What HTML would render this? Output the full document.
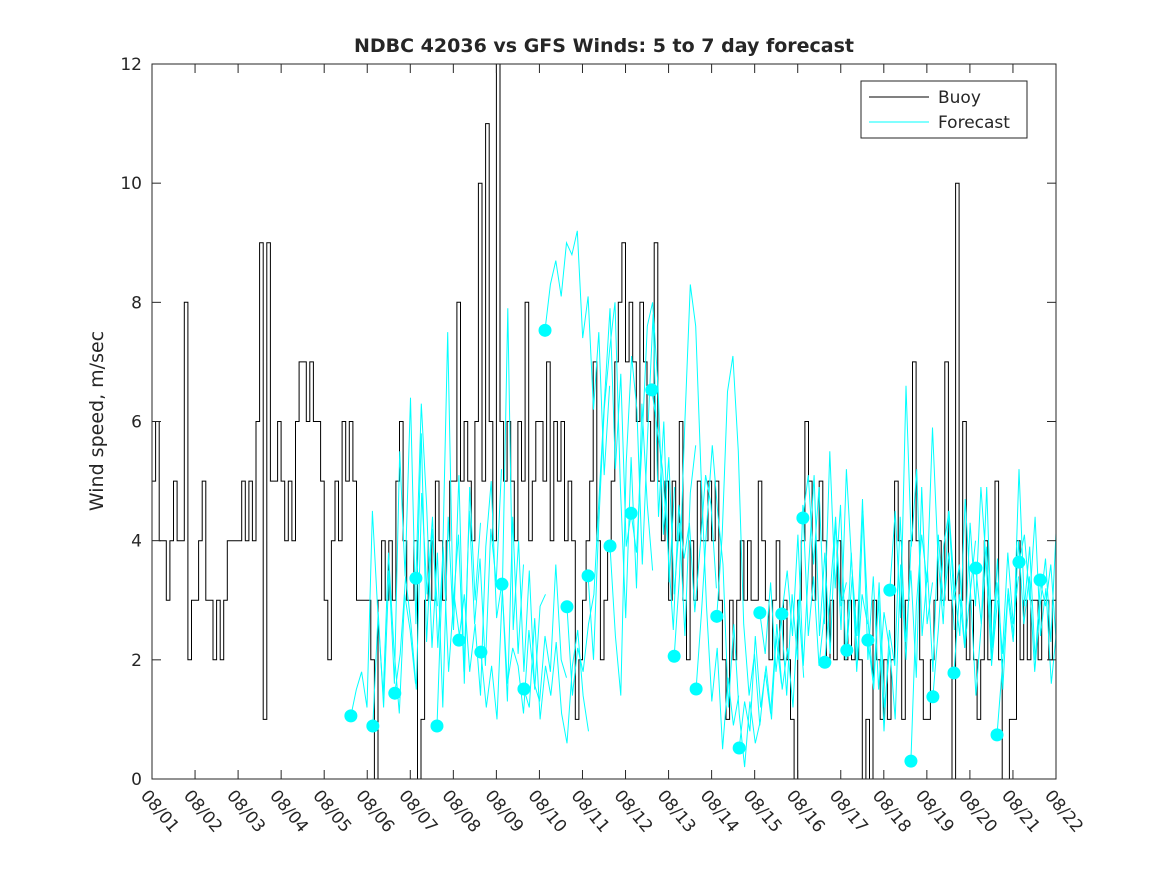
<!DOCTYPE html>
<html><head><meta charset="utf-8"><style>
body{margin:0;background:#fff;font-family:"DejaVu Sans","Liberation Sans",sans-serif}
svg text{font-family:"DejaVu Sans","Liberation Sans",sans-serif;fill:#262626}
</style></head><body>
<svg id="chart" width="1167" height="875" viewBox="0 0 1167 875" xmlns="http://www.w3.org/2000/svg">
<rect width="1167" height="875" fill="#fff"/>
<defs><clipPath id="pc"><rect x="152" y="64" width="904" height="715"/></clipPath></defs>
<g id="plot"></g>
</svg>
<script>
const xTickLabels=["08/01","08/02","08/03","08/04","08/05","08/06","08/07","08/08","08/09","08/10","08/11","08/12","08/13","08/14","08/15","08/16","08/17","08/18","08/19","08/20","08/21","08/22"];
const yTicks=[0,2,4,6,8,10,12];
// buoy: 2-hourly values, 12 per day
const buoy=[
5,6,4,4,3,4,5,4,4,8,2,3,
3,4,5,3,3,2,3,2,3,4,4,4,
4,5,4,5,4,6,9,1,9,5,5,6,
5,4,5,4,6,7,7,6,7,6,6,5,
3,2,4,5,4,6,5,6,5,3,3,3,
3,2,0,3,4,3,4,3,5,6,4,3,
3,4,0,1,3,4,3,5,4,3,4,5,
5,8,5,6,5,4,6,10,5,11,6,4,
12,6,5,6,5,4,6,5,8,4,5,6,
6,5,7,4,6,5,6,4,5,4,1,2,
3,4,5,7,4,2,3,4,5,7,8,9,
7,8,7,6,8,7,6,5,9,5,4,5,
3,5,4,6,3,2,4,3,5,4,4,5,
4,5,3,2,1,3,2,3,4,3,4,3,
3,5,4,3,2,3,4,2,3,2,1,0,
3,4,6,5,3,4,5,4,2,3,2,4,
3,2,3,2,3,2,0,1,0,3,2,1,
2,1,2,5,4,1,3,4,7,4,2,1,
1,2,3,4,3,7,3,0,10,3,6,2,
3,2,1,2,4,2,3,5,2,0,0,1,
1,4,2,3,2,3,3,2,3,3,2,3];
const runStart=[4.62,5.13,5.64,6.13,6.62,7.13,7.64,8.13,8.64,9.13,9.64,10.13,10.64,11.13,11.61,12.13,12.64,13.12,13.64,14.12,14.63,15.12,15.63,16.14,16.63,17.14,17.63,18.14,18.63,19.14,19.63,20.14,20.63];
const runs=[
[1.06,1.5,1.8,1.2,4.5,2.8,1.4,3.8,2.2,1.1,3.1,2.5,1.6],
[0.89,2.8,1.2,3.5,1.6,5.5,3.4,6.4,2.6,5.8,2.3,4.2,2.9],
[1.44,2.1,3.4,2.6,1.5,4.8,3.1,4.4,2.2,3.9,1.8,3.1,2.4],
[3.37,6.3,4.6,2.2,3.8,1.2,4.4,2.5,5.1,1.6,4.9,3.0,4.3],
[0.89,3.5,7.5,2.9,4.1,1.8,4.5,2.6,3.7,1.9,4.2,3.3,5.2],
[2.33,3.1,1.8,2.6,1.4,3.9,5.0,2.7,3.3,1.3,4.4,2.1,3.6],
[2.13,1.2,1.9,1.0,3.2,7.9,2.5,4.0,1.8,3.5,1.5,2.9,3.1],
[3.27,1.6,2.2,1.9,1.1,2.5,1.6,1.3,2.4,1.8,3.6,2.0,1.7],
[1.51,1.2,2.7,1.0,1.9,1.4,2.3,1.1,0.6,1.9,2.5,1.4,0.8],
[7.53,8.3,8.7,8.1,9.0,8.8,9.2,7.4,8.1,6.2,7.5,5.1,6.6],
[2.89,1.4,2.2,1.8,2.6,3.1,4.8,6.4,7.9,5.2,6.8,3.9,4.5],
[3.41,2.0,4.3,6.2,7.2,8.0,4.9,2.7,5.4,3.2,6.3,4.6,3.5],
[3.91,2.4,1.4,5.3,7.1,6.2,3.6,5.8,7.8,4.4,6.0,3.3,4.9],
[4.46,3.8,5.6,7.6,8.0,6.6,4.1,5.4,3.1,4.3,2.4,4.8,5.6],
[6.53,5.9,5.2,3.9,2.5,4.6,3.7,4.3,2.8,3.9,5.1,4.6,3.2],
[2.06,3.4,6.0,8.3,7.6,5.1,2.9,1.3,2.2,0.5,1.7,0.9,1.4],
[1.51,2.8,4.3,5.6,4.5,3.6,1.2,2.6,1.1,0.2,1.3,0.6,1.0],
[2.73,4.1,6.5,7.1,5.5,2.6,1.4,2.1,0.9,1.8,1.1,2.4,1.6],
[0.52,1.3,0.8,2.4,1.2,1.9,1.0,2.6,1.5,2.2,1.2,3.0,1.7],
[2.79,2.1,3.3,1.8,2.7,1.4,3.1,2.0,4.6,2.4,3.4,1.9,2.8],
[2.77,3.5,2.4,4.1,1.9,3.6,5.1,2.4,3.8,2.1,4.3,2.9,3.3],
[4.38,5.1,3.6,4.9,2.6,5.5,3.2,4.6,2.0,3.8,1.8,3.1,2.6],
[1.96,3.1,4.4,2.5,5.2,3.6,2.4,4.7,2.0,3.4,1.5,2.8,2.2],
[2.16,3.4,2.0,4.5,2.6,1.5,3.3,1.2,2.2,1.0,3.6,2.0,4.1],
[2.33,1.6,3.0,0.8,2.5,1.9,4.4,2.3,3.5,1.7,4.9,2.6,3.3],
[3.17,4.5,2.7,6.6,3.9,5.2,2.4,3.5,1.8,4.1,2.9,3.8,2.5],
[0.30,2.9,4.1,3.3,5.9,3.8,2.6,4.5,3.0,3.6,2.2,3.1,4.0],
[1.38,2.5,3.9,4.5,3.2,2.4,4.7,3.1,1.4,2.6,3.9,2.0,3.0],
[1.78,3.1,2.2,4.3,2.9,4.9,3.6,1.9,3.3,2.1,3.8,2.6,3.4],
[3.54,2.6,4.9,2.2,3.7,1.5,3.2,2.4,5.2,2.9,3.9,2.0,3.3],
[0.74,1.9,3.1,2.3,4.0,2.6,3.4,1.8,2.9,3.7,2.3,4.2,3.0],
[3.64,4.1,3.0,4.4,2.4,3.2,1.6,2.5,1.5,3.3,2.6,4.5,3.8],
[3.34,2.9,3.6,2.3,3.1,2.0,2.8,3.5,2.6,4.1,3.0,4.9,4.2]
];
const X0=152,X1=1056,Y0=779,Y1=64,DAYS=21,YMAX=12,PER_DAY=12;
const xs=d=>X0+(X1-X0)*d/DAYS;
const ys=v=>Y0-(Y0-Y1)*v/YMAX;
const NS="http://www.w3.org/2000/svg";
const g=document.getElementById('plot');
function mk(t,a,parent){const e=document.createElementNS(NS,t);for(const k in a)e.setAttribute(k,a[k]);(parent||g).appendChild(e);return e;}
let e=mk('rect',{x:X0,y:Y1,width:X1-X0,height:Y0-Y1,fill:'#fff',stroke:'none'});


const clipG=mk('g',{'clip-path':'url(#pc)'});


// buoy step line
let p='';
buoy.forEach((v,i)=>{const x=xs(i/PER_DAY),x2=xs((i+1)/PER_DAY);p+=(i?'L':'M')+x.toFixed(1)+','+ys(v).toFixed(1)+'L'+x2.toFixed(1)+','+ys(v).toFixed(1);});
e=mk('path',{d:p,fill:'none',stroke:'#000','stroke-width':1},clipG);


runs.forEach((r,k)=>{let d='';r.forEach((v,i)=>{d+=(i?'L':'M')+xs(runStart[k]+i/8).toFixed(1)+','+ys(v).toFixed(1);});
 const l=mk('path',{d:d,fill:'none',stroke:'#00ffff','stroke-width':1},clipG);
 
 
});
runs.forEach((r,k)=>{const c=mk('circle',{cx:xs(runStart[k]),cy:ys(r[0]),r:6.5,fill:'#00ffff'},clipG);
 
 
});
yTicks.forEach(v=>{const y=ys(v);
 mk('line',{x1:X0,x2:X0+9,y1:y,y2:y,stroke:'#262626'});mk('line',{x1:X1-9,x2:X1,y1:y,y2:y,stroke:'#262626'});
 const t=mk('text',{x:X0-10,y:y+6,'text-anchor':'end','font-size':17});t.textContent=v;
 
 
});
xTickLabels.forEach((s,i)=>{const x=xs(i);
 mk('line',{x1:x,x2:x,y1:Y0,y2:Y0-9,stroke:'#262626'});mk('line',{x1:x,x2:x,y1:Y1,y2:Y1+9,stroke:'#262626'});
 const t=mk('text',{x:0,y:0,'font-size':17,transform:`translate(${x-12},${Y0+17}) rotate(50)`});t.textContent=s;
 
 
});
mk('rect',{x:X0,y:Y1,width:X1-X0,height:Y0-Y1,fill:'none',stroke:'#262626','stroke-width':1});
e=mk('text',{x:604,y:52,'text-anchor':'middle','font-size':19,'font-weight':'bold'});e.textContent='NDBC 42036 vs GFS Winds: 5 to 7 day forecast';


e=mk('text',{x:0,y:0,'text-anchor':'middle','font-size':19,transform:'translate(103,421) rotate(-90)'});e.textContent='Wind speed, m/sec';


e=mk('rect',{x:861,y:81,width:166,height:57,fill:'#fff',stroke:'#262626'});


mk('line',{x1:869,x2:929,y1:97,y2:97,stroke:'#000'});
mk('line',{x1:869,x2:929,y1:122,y2:122,stroke:'#00ffff'});
e=mk('text',{x:938,y:103,'font-size':17});e.textContent='Buoy';


e=mk('text',{x:938,y:128,'font-size':17});e.textContent='Forecast';


</script>
</body></html>
